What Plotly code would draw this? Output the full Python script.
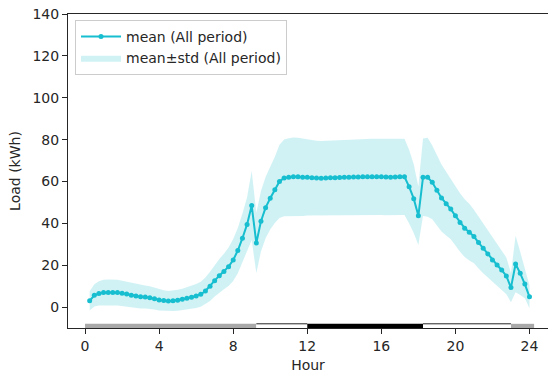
import plotly.graph_objects as go

# 15-minute time grid (hours)
hours = [0.25 * i for i in range(1, 97)]

mean_load = [
    3.0, 5.6, 6.5, 6.9, 7.0, 7.0, 6.9, 6.6, 6.2, 5.7, 5.3, 4.9,
    4.8, 4.5, 4.0, 3.4, 3.1, 2.9, 3.0, 3.3, 3.7, 4.2, 4.7, 5.3,
    6.1, 7.7, 9.9, 12.6, 15.0, 17.0, 19.3, 22.5, 27.0, 32.9, 39.5, 48.5,
    30.6, 41.0, 47.5, 52.0, 56.0, 60.0, 61.7, 62.0, 62.2, 62.2, 62.0, 62.0,
    61.8, 61.6, 61.5, 61.6, 61.8, 61.8, 61.9, 62.0, 62.0, 62.1, 62.1, 62.2,
    62.2, 62.2, 62.2, 62.2, 62.1, 62.0, 62.1, 62.2, 62.2, 57.5, 51.8, 43.6,
    62.0, 62.0, 59.6, 55.8, 52.1, 49.4, 46.8, 43.6, 40.4, 37.7, 35.8, 33.7,
    30.8, 28.1, 25.4, 22.5, 20.1, 17.7, 14.9, 9.3, 20.6, 16.1, 11.0, 4.9,
]

std_load = [
    4.6, 5.3, 5.8, 6.1, 6.2, 6.2, 6.1, 6.0, 5.9, 5.8, 5.7, 5.6,
    5.5, 5.4, 5.2, 5.0, 4.9, 4.8, 4.9, 5.0, 5.1, 5.3, 5.5, 5.7,
    6.0, 6.4, 7.0, 7.5, 8.0, 8.5, 9.2, 10.0, 10.8, 11.8, 13.0, 16.5,
    14.5, 14.4, 14.6, 15.0, 15.8, 17.5, 18.3, 18.6, 18.8, 18.7, 18.5, 18.3,
    17.9, 17.8, 17.8, 17.8, 18.0, 18.0, 18.0, 18.0, 18.1, 18.1, 18.2, 18.2,
    18.2, 18.2, 18.2, 18.2, 18.2, 18.2, 18.2, 18.2, 18.2, 17.6, 16.4, 14.0,
    18.5, 18.9, 17.6, 16.8, 16.0, 15.2, 14.4, 14.0, 14.0, 13.8, 13.6, 12.8,
    12.4, 12.0, 11.6, 10.8, 10.0, 9.6, 8.8, 7.0, 13.5, 10.3, 6.8, 5.5,
]

# Period bar along the bottom
period_start = [0, 9.25, 12, 18.25, 23]
period_end = [9.25, 12, 18.25, 23, 24.25]
period_color = ["#a9a9a9", "#ffffff", "#000000", "#ffffff", "#a9a9a9"]
period_bar_bottom = -10
period_bar_top = -8

x_ticks = [0, 4, 8, 12, 16, 20, 24]
y_ticks = [0, 20, 40, 60, 80, 100, 120, 140]

assert len(hours) == len(mean_load) == len(std_load)

upper = [m + s for m, s in zip(mean_load, std_load)]
lower = [m - s for m, s in zip(mean_load, std_load)]

CYAN = "#17becf"
INK = "#262626"

fig = go.Figure()

fig.add_trace(go.Scatter(
    x=hours + hours[::-1], y=upper + lower[::-1],
    fill="toself", fillcolor="rgba(23,190,207,0.2)",
    line=dict(width=0, color="rgba(23,190,207,0)"),
    mode="lines", name="mean±std (All period)", legendrank=2,
    hoverinfo="skip",
))

fig.add_trace(go.Scatter(
    x=hours, y=mean_load, mode="lines+markers",
    line=dict(color=CYAN, width=2),
    marker=dict(color=CYAN, size=5),
    name="mean (All period)", legendrank=1,
))

for s, e, c in zip(period_start, period_end, period_color):
    fig.add_shape(
        type="rect", xref="x", yref="y",
        x0=s, x1=e, y0=period_bar_bottom, y1=period_bar_top,
        fillcolor=c, line=dict(width=0), layer="above",
    )
    if c == "#ffffff":
        fig.add_shape(
            type="line", xref="x", yref="y",
            x0=s, x1=e, y0=period_bar_top, y1=period_bar_top,
            line=dict(color=INK, width=1), layer="above",
        )

fig.update_layout(
    width=548, height=374,
    margin=dict(l=68, r=0, t=14, b=46),
    plot_bgcolor="white", paper_bgcolor="white",
    font=dict(family="DejaVu Sans", size=14, color=INK),
    showlegend=True,
    legend=dict(
        x=0.0146, y=0.981, xanchor="left", yanchor="top",
        bgcolor="rgba(255,255,255,0.8)", bordercolor="#cccccc", borderwidth=1,
        font=dict(size=14), traceorder="normal",
        itemwidth=40, tracegroupgap=2,
    ),
)

fig.update_xaxes(
    range=[-0.92, 25.0], tickvals=x_ticks, ticktext=[str(t) for t in x_ticks],
    ticks="outside", ticklen=5, tickwidth=1, tickcolor=INK,
    showline=True, linecolor=INK, linewidth=1, mirror=True,
    showgrid=False, zeroline=False,
    title=dict(text="Hour", standoff=7, font=dict(size=14)),
)
fig.update_yaxes(
    range=[-10, 140], tickvals=y_ticks, ticktext=[str(t) for t in y_ticks],
    ticks="outside", ticklen=5, tickwidth=1, tickcolor=INK,
    showline=True, linecolor=INK, linewidth=1,
    showgrid=False, zeroline=False,
    title=dict(text="Load (kWh)", standoff=8, font=dict(size=14)),
)

fig.write_html("out.html")
